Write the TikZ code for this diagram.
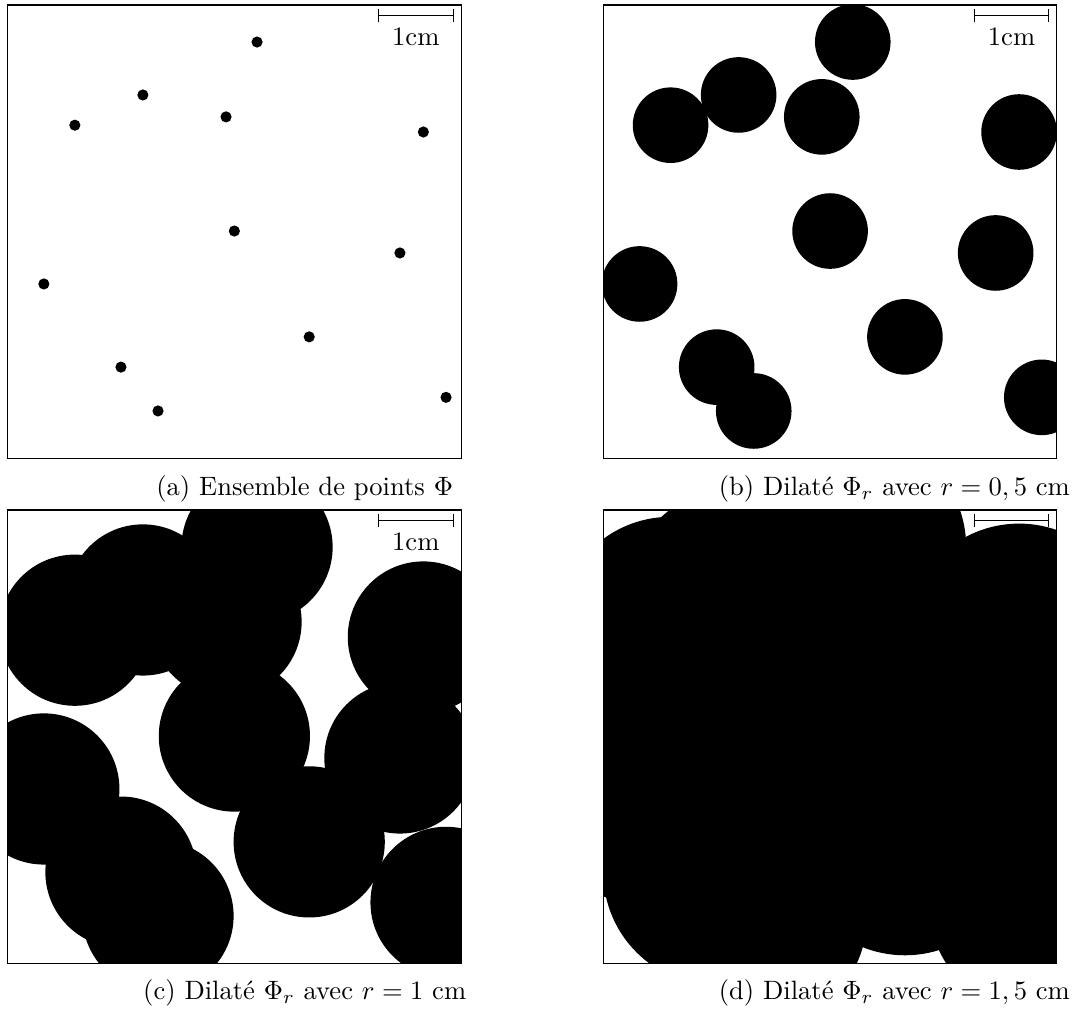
\documentclass[tikz,border=0pt]{standalone}
\usepackage{fontspec}
\usetikzlibrary{arrows.meta, positioning}

% points of the set (cm, in a 6cm x 6cm window)
\newcommand{\ptset}{3.30/5.51, 1.79/4.81, 0.89/4.41, 2.89/4.52, 5.50/4.32, 3.00/3.01,
  5.19/2.72, 0.48/2.31, 3.99/1.61, 1.50/1.21, 1.99/0.63, 5.80/0.81}

\begin{document}
\begin{tikzpicture}[
    window/.style={
        draw,
        minimum size=6cm,
        inner sep=0pt,
        outer sep=0pt,
        anchor=south west
    },
    ruler/.style={
        {Bar[width=1.8mm]}-{Bar[width=1.8mm]},
        line width=0.4pt
    },
    caption/.style={
        anchor=base,
        font=\normalsize
    }
]
\useasboundingbox (0,0) rectangle (14.18,13.386);

% Panels: origin / radius / name
\foreach \ox/\oy/\rad/\nm in {0.1/7.32/2.1pt/a, 7.98/7.32/0.5cm/b, 0.1/0.64/1cm/c, 7.98/0.64/1.5cm/d}{
    \begin{scope}[shift={(\ox,\oy)}]
        \begin{scope}
            \clip (0,0) rectangle (6,6);
            % scale bar
            \draw[ruler] (4.9,5.86) -- (5.9,5.86) node[midway, below=1pt] (unit\nm) {1cm};
            % dilated set
            \foreach \px/\py in \ptset {
                \fill (\px,\py) circle (\rad);
            }
        \end{scope}
        \node[window] (win\nm) at (0,0) {};
    \end{scope}
}

% Captions
\node[caption] (capa) at (4.03,6.83) {(a) Ensemble de points $\Phi$};
\node[caption] (capb) at (11.83,6.83) {(b) Dilaté $\Phi_r$ avec $r=0,5$ cm};
\node[caption] (capc) at (4.03,0.165) {(c) Dilaté $\Phi_r$ avec $r=1$ cm};
\node[caption] (capd) at (11.83,0.165) {(d) Dilaté $\Phi_r$ avec $r=1,5$ cm};

\end{tikzpicture}
\end{document}
